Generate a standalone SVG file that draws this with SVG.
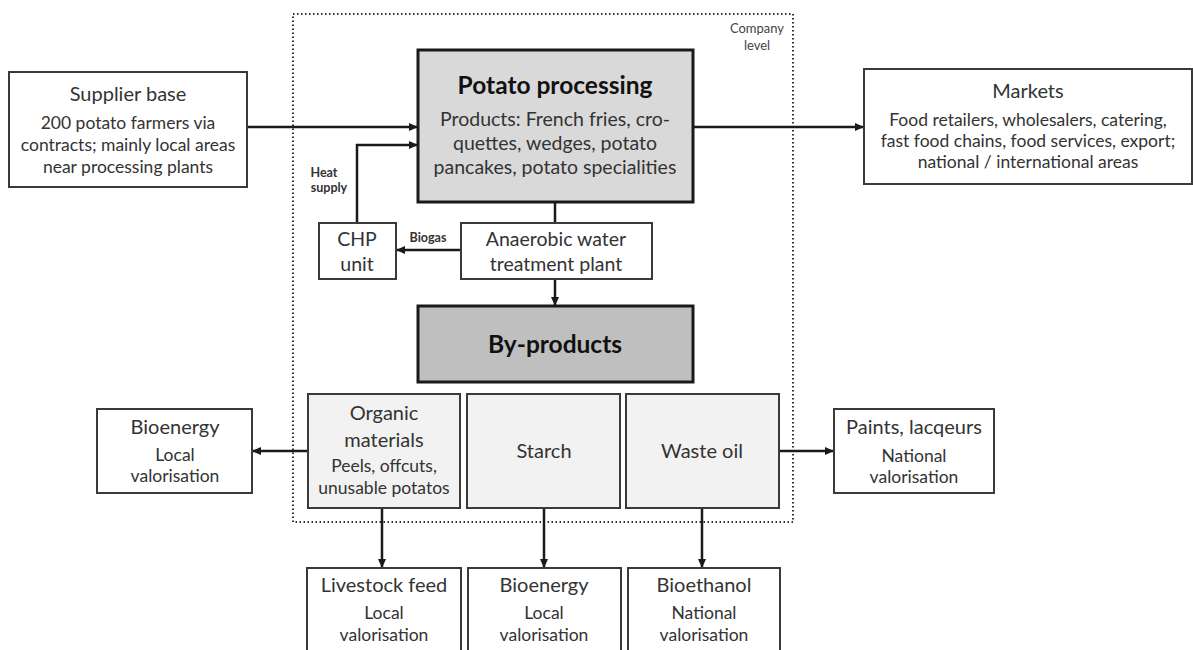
<svg xmlns="http://www.w3.org/2000/svg" width="1193" height="650" viewBox="0 0 1193 650">
<defs>
<marker id="arr" markerWidth="9" markerHeight="8" refX="8" refY="4" orient="auto" markerUnits="userSpaceOnUse">
<path d="M0,0 L9,4 L0,8 z" fill="#1a1a1a"/>
</marker>
<style>
.box{fill:#ffffff;stroke:#3a3a3a;stroke-width:2}
.main{fill:#d9d9d9;stroke:#1a1a1a;stroke-width:3}
.byp{fill:#bfbfbf;stroke:#1a1a1a;stroke-width:3}
.sub{fill:#f2f2f2;stroke:#3a3a3a;stroke-width:2}
.ln{fill:none;stroke:#1a1a1a;stroke-width:2.5}
.t{font-family:Lato,"Open Sans",sans-serif;fill:#333;text-anchor:middle}
.h{font-size:20px}
.b{font-size:17.5px}
.m{font-size:19.5px}
.big{font-size:24.5px;font-weight:bold;fill:#111}
.sm{font-size:12.5px;font-weight:bold;fill:#333}
.cl{font-size:13px;fill:#444}
</style>
</defs>
<rect width="1193" height="650" fill="#ffffff"/>
<g id="company-level">
<rect x="293" y="14" width="500" height="508" fill="none" stroke="#333" stroke-width="2" stroke-dasharray="1.5 2.5"/>
<text class="t cl" x="757" y="33">Company</text>
<text class="t cl" x="757" y="50">level</text>
</g>
<g id="connectors">
<path class="ln" d="M247 127 H417" marker-end="url(#arr)"/>
<path class="ln" d="M693 127 H863" marker-end="url(#arr)"/>
<path class="ln" d="M357 223 V145 H417" marker-end="url(#arr)"/>
<path class="ln" d="M555 202 V223"/>
<path class="ln" d="M461 250 H397" marker-end="url(#arr)"/>
<path class="ln" d="M555 279 V305" marker-end="url(#arr)"/>
<path class="ln" d="M308 451 H253" marker-end="url(#arr)"/>
<path class="ln" d="M779 451 H833" marker-end="url(#arr)"/>
<path class="ln" d="M382 508 V567" marker-end="url(#arr)"/>
<path class="ln" d="M544 508 V567" marker-end="url(#arr)"/>
<path class="ln" d="M702 508 V567" marker-end="url(#arr)"/>
<text class="t sm" x="324" y="177">Heat</text>
<text class="t sm" x="329" y="192">supply</text>
<text class="t sm" x="428" y="242">Biogas</text>
</g>
<g id="supplier">
<rect class="box" x="9" y="72" width="238" height="115"/>
<text class="t h" x="128" y="101">Supplier base</text>
<text class="t b" x="128" y="129">200 potato farmers via</text>
<text class="t b" x="128" y="151">contracts; mainly local areas</text>
<text class="t b" x="128" y="173">near processing plants</text>
</g>
<g id="processing">
<rect class="main" x="418" y="50" width="275" height="152"/>
<text class="t big" x="555" y="94">Potato processing</text>
<text class="t m" x="555" y="126">Products: French fries, cro-</text>
<text class="t m" x="555" y="150">quettes, wedges, potato</text>
<text class="t m" x="555" y="174">pancakes, potato specialities</text>
</g>
<g id="markets">
<rect class="box" x="864" y="69" width="328" height="115"/>
<text class="t h" x="1028" y="98">Markets</text>
<text class="t b" x="1028" y="126">Food retailers, wholesalers, catering,</text>
<text class="t b" x="1028" y="147">fast food chains, food services, export;</text>
<text class="t b" x="1028" y="168">national / international areas</text>
</g>
<g id="chp">
<rect class="box" x="319" y="223" width="77" height="56"/>
<text class="t m" x="357" y="246">CHP</text>
<text class="t m" x="357" y="271">unit</text>
</g>
<g id="anaerobic">
<rect class="box" x="461" y="223" width="191" height="56"/>
<text class="t m" x="556" y="246">Anaerobic water</text>
<text class="t m" x="556" y="271">treatment plant</text>
</g>
<g id="byproducts">
<rect class="byp" x="418" y="306" width="275" height="76"/>
<text class="t big" x="555" y="353">By-products</text>
</g>
<g id="organic">
<rect class="sub" x="308" y="394" width="152" height="114"/>
<text class="t h" x="384" y="420">Organic</text>
<text class="t h" x="384" y="447">materials</text>
<text class="t b" x="384" y="472">Peels, offcuts,</text>
<text class="t b" x="384" y="494">unusable potatos</text>
</g>
<g id="starch">
<rect class="sub" x="467" y="394" width="153" height="114"/>
<text class="t h" x="544" y="458">Starch</text>
</g>
<g id="wasteoil">
<rect class="sub" x="626" y="394" width="153" height="114"/>
<text class="t h" x="702" y="458">Waste oil</text>
</g>
<g id="bioenergy-left">
<rect class="box" x="97" y="409" width="155" height="84"/>
<text class="t h" x="175" y="434">Bioenergy</text>
<text class="t b" x="175" y="461">Local</text>
<text class="t b" x="175" y="482">valorisation</text>
</g>
<g id="paints">
<rect class="box" x="834" y="409" width="160" height="84"/>
<text class="t h" x="914" y="434">Paints, lacqeurs</text>
<text class="t b" x="914" y="462">National</text>
<text class="t b" x="914" y="483">valorisation</text>
</g>
<g id="livestock">
<rect class="box" x="307" y="568" width="154" height="95"/>
<text class="t h" x="384" y="592">Livestock feed</text>
<text class="t b" x="384" y="619">Local</text>
<text class="t b" x="384" y="641">valorisation</text>
</g>
<g id="bioenergy-bottom">
<rect class="box" x="468" y="568" width="153" height="95"/>
<text class="t h" x="544" y="592">Bioenergy</text>
<text class="t b" x="544" y="619">Local</text>
<text class="t b" x="544" y="641">valorisation</text>
</g>
<g id="bioethanol">
<rect class="box" x="628" y="568" width="152" height="95"/>
<text class="t h" x="704" y="592">Bioethanol</text>
<text class="t b" x="704" y="619">National</text>
<text class="t b" x="704" y="641">valorisation</text>
</g>
</svg>
